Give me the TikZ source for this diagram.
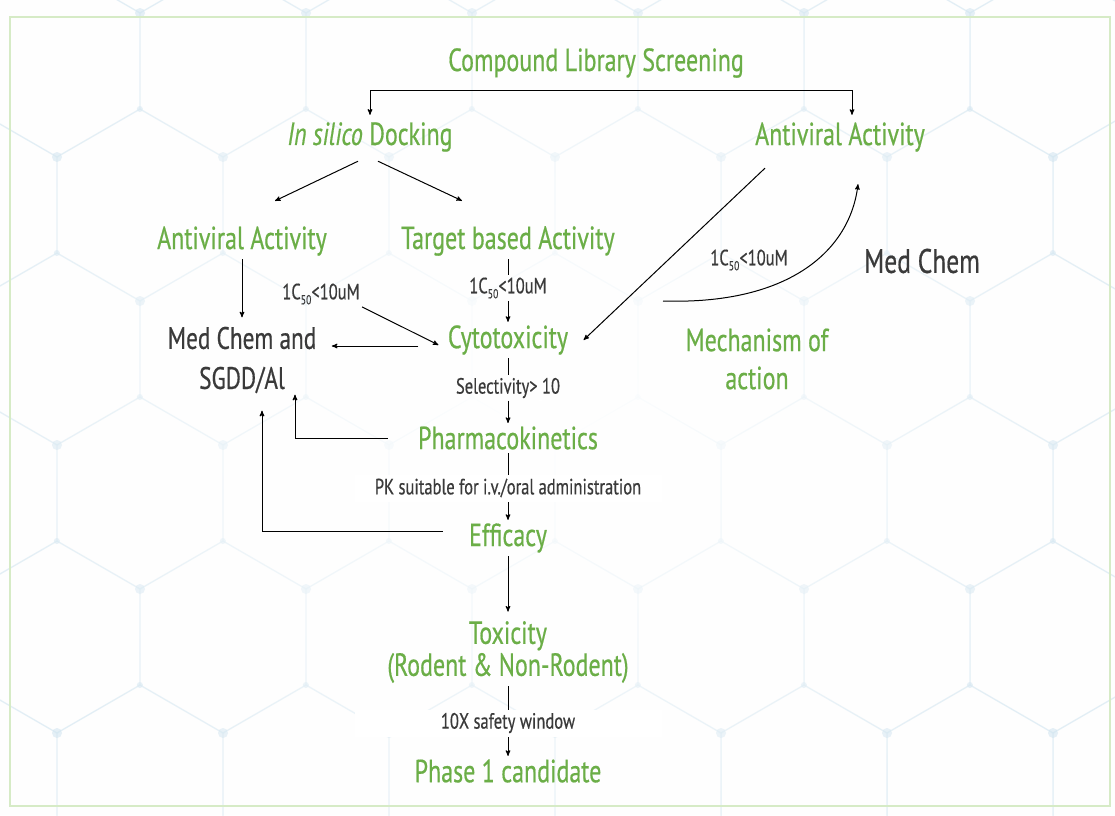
\documentclass[tikz,border=0pt]{standalone}
\usepackage{fontspec}
\setmainfont{PT Sans}[FakeStretch=0.75,FakeBold=0.5]
\usetikzlibrary{arrows,fadings}

\definecolor{leafgreen}{HTML}{6BAE47}
\definecolor{inkgray}{HTML}{3A3A3A}
\definecolor{hexblue}{HTML}{D3E6F1}
\definecolor{frame}{HTML}{D6EBC6}
\tikzfading[name=centrefade,inner color=transparent!0,outer color=transparent!100]
\newcommand{\icmark}{1C\raisebox{-5pt}{\fontsize{13}{13}\selectfont 50}<10uM}

\begin{document}
\begin{tikzpicture}[x=1pt,y=-1pt,>=stealth',line width=1pt,
  stage/.style={text=leafgreen,font=\fontsize{32}{38}\selectfont,align=center,inner sep=3pt},
  chem/.style={text=inkgray,font=\fontsize{31}{40}\selectfont,align=center,inner sep=3pt},
  cut/.style={text=inkgray,font=\fontsize{22}{24}\selectfont,inner sep=2pt},
  band/.style={cut,fill=white,minimum width=307pt,minimum height=27pt},
  hexline/.style={draw=hexblue,line width=1.2pt,opacity=0.4}]

  % background
  \useasboundingbox (0,0) rectangle (1115,815);
  \fill[white!97!hexblue] (0,0) rectangle (1115,815);
  \begin{scope}
    \clip (0,0) rectangle (1115,815);
    \foreach \i in {-7,...,2}
      \foreach \j in {-2,...,4} {
        \pgfmathsetmacro{\cx}{970+166*\i+83*mod(\j+4,2)}
        \pgfmathsetmacro{\cy}{205+144*\j}
        \draw[hexline] (\cx,\cy) +(30:96) -- +(90:96) -- +(150:96) -- +(210:96)
          -- +(270:96) -- +(330:96) -- cycle;
        \fill[hexblue,opacity=0.6] (\cx,\cy) +(90:96) circle (5) +(150:96) circle (3);
      }
    \fill[white,path fading=centrefade] (540,400) ellipse [x radius=600,y radius=500];
  \end{scope}
  \draw[frame,line width=1.2pt] (10,17) rectangle (1110,806);

  % stages
  \node[stage] (screen) at (596,63) {Compound Library Screening};
  \node[stage] (dock) at (370,137) {\textit{In silico} Docking};
  \node[stage] (avright) at (840,137) {Antiviral Activity};
  \node[stage] (avleft) at (242,241) {Antiviral Activity};
  \node[stage] (target) at (508,241) {Target based Activity};
  \node[chem] (medchem) at (242,360) {Med Chem and\\SGDD/Al};
  \node[stage] (cyto) at (508,340) {Cytotoxicity};
  \node[stage] (moa) at (757,359) {Mechanism of\\action};
  \node[chem,font=\fontsize{34}{40}\selectfont] (medright) at (922,261) {Med Chem};
  \node[stage] (pk) at (508,438) {Pharmacokinetics};
  \node[stage] (eff) at (508,538) {Efficacy};
  \node[stage,font=\fontsize{32}{32}\selectfont] (tox) at (508,652) {Toxicity\\(Rodent \& Non-Rodent)};
  \node[stage] (phase) at (508,771) {Phase 1 candidate};

  % cut-offs
  \node[cut] (icleft) at (321,294) {\icmark};
  \node[cut] (ictarget) at (508,288) {\icmark};
  \node[cut] (icright) at (749,260) {\icmark};
  \node[cut] (select) at (508,388) {Selectivity> 10};
  \coordinate (split) at (596,90);
  \coordinate (loopstart) at (663,301);

  \draw[->] (split) -| ([yshift=4pt]dock.north);
  \draw[->] (split) -| ([xshift=12pt,yshift=4pt]avright.north);
  \draw[->] ([xshift=-12pt,yshift=-6pt]dock.south) -- ([xshift=33pt,yshift=22pt]avleft.north);
  \draw[->] ([xshift=8pt,yshift=-6pt]dock.south) -- ([xshift=-46pt,yshift=22pt]target.north);
  \draw[->] (avleft) -- ([yshift=6pt]medchem.north);
  \draw (target) -- (ictarget);
  \draw[->] (ictarget) -- (cyto);
  \draw[->] (icleft.south east) -- ([xshift=-6pt,yshift=-5pt]cyto.west);
  \draw[->] ([xshift=-26pt,yshift=-6pt]cyto.west) -- ([xshift=12pt,yshift=-6pt]cyto.west -| medchem.east);
  \draw[->] ([xshift=-75pt,yshift=-13pt]avright.south) -- ([xshift=12pt]cyto.east);
  \draw[->] (loopstart) .. controls (790,305) and (850,250) .. ([xshift=18pt,yshift=-29pt]avright.south);
  \draw (cyto) -- (select);
  \draw[->] (select) -- (pk);
  \draw[->] ([xshift=-27pt]pk.west) -| ([xshift=53pt,yshift=2pt]medchem.south);
  \draw[->] ([xshift=-23pt,yshift=7pt]eff.west) -| ([xshift=20pt,yshift=-14pt]medchem.south);
  \draw[->] (pk) -- (eff);
  \draw[->] (eff) -- ([yshift=6pt]tox.north);
  \draw[->] (tox) -- (phase);

  \node[band] (pkroute) at (508,488) {PK suitable for i.v./oral administration};
  \node[band] (window) at (508,723) {10X safety window};
\end{tikzpicture}
\end{document}
